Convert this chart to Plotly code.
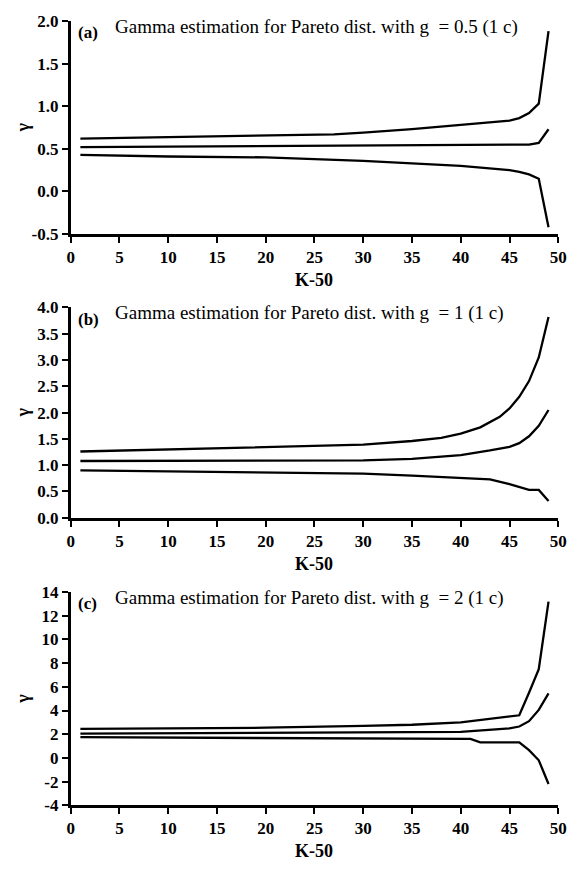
import plotly.graph_objects as go

# ---------------- data ----------------
x_ticks = [0, 5, 10, 15, 20, 25, 30, 35, 40, 45, 50]

# Panel (a): g = 0.5
a_up_x = [1, 10, 20, 27, 30, 35, 40, 45, 46, 47, 48, 49]
a_up_y = [0.62, 0.64, 0.66, 0.67, 0.69, 0.73, 0.78, 0.83, 0.86, 0.92, 1.03, 1.88]
a_mid_x = [1, 20, 40, 47, 48, 49]
a_mid_y = [0.52, 0.53, 0.54, 0.55, 0.57, 0.73]
a_lo_x = [1, 10, 20, 25, 30, 35, 40, 45, 46, 47, 48, 49]
a_lo_y = [0.43, 0.41, 0.40, 0.38, 0.36, 0.33, 0.30, 0.25, 0.23, 0.20, 0.15, -0.42]
a_yticks = [-0.5, 0.0, 0.5, 1.0, 1.5, 2.0]
a_ytext = ["-0.5", "0.0", "0.5", "1.0", "1.5", "2.0"]

# Panel (b): g = 1
b_up_x = [1, 10, 20, 25, 30, 35, 38, 40, 42, 44, 45, 46, 47, 48, 49]
b_up_y = [1.26, 1.30, 1.35, 1.36, 1.39, 1.46, 1.52, 1.60, 1.72, 1.92, 2.08, 2.30, 2.60, 3.05, 3.82]
b_mid_x = [1, 20, 30, 35, 40, 43, 45, 46, 47, 48, 49]
b_mid_y = [1.08, 1.08, 1.09, 1.12, 1.19, 1.28, 1.35, 1.42, 1.55, 1.75, 2.05]
b_lo_x = [1, 10, 20, 30, 35, 40, 43, 45, 47, 48, 49]
b_lo_y = [0.90, 0.88, 0.86, 0.84, 0.80, 0.76, 0.73, 0.64, 0.53, 0.53, 0.32]
b_yticks = [0.0, 0.5, 1.0, 1.5, 2.0, 2.5, 3.0, 3.5, 4.0]
b_ytext = ["0.0", "0.5", "1.0", "1.5", "2.0", "2.5", "3.0", "3.5", "4.0"]

# Panel (c): g = 2
c_up_x = [1, 20, 30, 35, 40, 43, 46, 47, 48, 49]
c_up_y = [2.45, 2.55, 2.70, 2.80, 3.00, 3.30, 3.60, 5.50, 7.50, 13.2]
c_mid_x = [1, 20, 40, 45, 46, 47, 48, 49]
c_mid_y = [2.05, 2.15, 2.20, 2.50, 2.65, 3.10, 4.05, 5.45]
c_lo_x = [1, 20, 35, 41, 42, 46, 47, 48, 49]
c_lo_y = [1.75, 1.65, 1.60, 1.60, 1.32, 1.32, 0.65, -0.20, -2.20]
c_yticks = [-4, -2, 0, 2, 4, 6, 8, 10, 12, 14]
c_ytext = ["-4", "-2", "0", "2", "4", "6", "8", "10", "12", "14"]

labels = ["(a)", "(b)", "(c)"]
titles = ["Gamma estimation for Pareto dist. with g  = 0.5 (1 c)",
          "Gamma estimation for Pareto dist. with g  = 1 (1 c)",
          "Gamma estimation for Pareto dist. with g  = 2 (1 c)"]
x_title = "K-50"
y_title = "γ"

# ---------------- layout ----------------
OFF = 8  # browser body margin
W, H = 579 - OFF, 873 - OFF

panels = [
    dict(series=[(a_up_x, a_up_y), (a_mid_x, a_mid_y), (a_lo_x, a_lo_y)],
         yrange=[-0.5, 2.0], tv=a_yticks, tt=a_ytext, top=12, bottom=230),
    dict(series=[(b_up_x, b_up_y), (b_mid_x, b_mid_y), (b_lo_x, b_lo_y)],
         yrange=[0.0, 4.0], tv=b_yticks, tt=b_ytext, top=305, bottom=520),
    dict(series=[(c_up_x, c_up_y), (c_mid_x, c_mid_y), (c_lo_x, c_lo_y)],
         yrange=[-4, 14], tv=c_yticks, tt=c_ytext, top=596, bottom=814),
]


def px(v):
    return (v - OFF) / W


def py(v):
    return 1 - (v - OFF) / H


xdom = [px(68), px(567)]
fig = go.Figure()
annotations = []
SERIF = "Liberation Serif"
tickfont = dict(family=SERIF, size=17, color="black", weight="bold")

for i, p in enumerate(panels, start=1):
    xa = "x" if i == 1 else f"x{i}"
    ya = "y" if i == 1 else f"y{i}"
    for sx, sy in p["series"]:
        fig.add_trace(go.Scatter(x=sx, y=sy, mode="lines", xaxis=xa, yaxis=ya,
                                 line=dict(color="black", width=2.3), showlegend=False,
                                 hoverinfo="skip"))
    ydom = [py(p["bottom"]), py(p["top"])]
    axcommon = dict(showline=True, linecolor="black", linewidth=2.5, ticks="outside",
                    ticklen=6, tickwidth=2.2, tickcolor="black", showgrid=False,
                    zeroline=False, tickfont=tickfont, ticklabeloverflow="allow")
    fig.update_layout(**{
        ("xaxis" if i == 1 else f"xaxis{i}"): dict(
            domain=xdom, range=[0, 50], tickvals=x_ticks,
            ticktext=[str(t) for t in x_ticks], anchor=ya, **axcommon),
        ("yaxis" if i == 1 else f"yaxis{i}"): dict(
            domain=ydom, range=p["yrange"], tickvals=p["tv"], ticktext=p["tt"],
            anchor=xa, **axcommon),
    })
    annotations.append(dict(text="<b>" + labels[i - 1] + "</b>", xref="paper", yref="paper",
                            x=px(74), y=py(p["top"] + 12), xanchor="left", yanchor="middle",
                            showarrow=False, font=dict(family=SERIF, size=17, color="black")))
    annotations.append(dict(text=titles[i - 1], xref="paper", yref="paper",
                            x=px(111), y=py(p["top"] + 6), xanchor="left", yanchor="middle",
                            showarrow=False, font=dict(family=SERIF, size=19, color="black")))
    annotations.append(dict(text="<b>" + x_title + "</b>", xref="paper", yref="paper",
                            x=px(317), y=py(p["bottom"] + 47), xanchor="center", yanchor="middle",
                            showarrow=False, font=dict(family=SERIF, size=18, color="black")))
    annotations.append(dict(text="<b>" + y_title + "</b>", xref="paper", yref="paper",
                            x=0, y=py((p["top"] + p["bottom"]) / 2), xanchor="left",
                            yanchor="middle", textangle=-90, showarrow=False, borderpad=0,
                            font=dict(family=SERIF, size=18, color="black")))

fig.update_layout(width=W, height=H, margin=dict(l=0, r=0, t=0, b=0),
                  plot_bgcolor="white", paper_bgcolor="white", annotations=annotations)
fig.write_html("out.html")
